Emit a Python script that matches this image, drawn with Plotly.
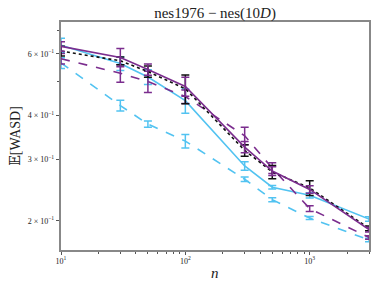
import plotly.graph_objects as go

n = [10, 30, 50, 100, 300, 500, 1000, 3000]

purple_solid = [0.630, 0.586, 0.541, 0.484, 0.325, 0.2776, 0.246, 0.189]
purple_solid_err = [0.02, 0.035, 0.02, 0.03, 0.012, 0.008, 0.006, 0.003]
purple_dashed = [0.581, 0.528, 0.500, 0.453, 0.350, 0.283, 0.2169, 0.1794]
purple_dashed_err = [0.02, 0.03, 0.035, 0.02, 0.02, 0.010, 0.004, 0.002]
cyan_solid = [0.635, 0.563, 0.515, 0.441, 0.287, 0.2496, 0.2367, 0.2025]
cyan_solid_err = [0.03, 0.025, 0.025, 0.035, 0.008, 0.003, 0.004, 0.003]
cyan_dashed = [0.565, 0.427, 0.378, 0.338, 0.263, 0.230, 0.2038, 0.1764]
cyan_dashed_err = [0.02, 0.015, 0.008, 0.015, 0.004, 0.003, 0.002, 0.002]
black_dotted = [0.611, 0.573, 0.534, 0.477, 0.318, 0.276, 0.2485, 0.1905]
black_dotted_err = [0.02, 0.015, 0.02, 0.045, 0.012, 0.012, 0.012, 0.003]

PURPLE = "#7b2d8e"
CYAN = "#52c3f1"
BLACK = "#111111"

series = [
    (cyan_dashed, cyan_dashed_err, CYAN, "dash"),
    (cyan_solid, cyan_solid_err, CYAN, "solid"),
    (purple_dashed, purple_dashed_err, PURPLE, "dash"),
    (black_dotted, black_dotted_err, BLACK, "dot"),
    (purple_solid, purple_solid_err, PURPLE, "solid"),
]

fig = go.Figure()
for y, e, c, d in series:
    fig.add_trace(go.Scatter(
        x=n, y=y, mode="lines",
        line=dict(color=c, width=1.6, dash=d),
        error_y=dict(type="data", array=e, visible=True, color=c, thickness=1.5, width=4),
        showlegend=False,
    ))

font = "Liberation Serif, DejaVu Serif, serif"
ytv = [0.2, 0.3, 0.4, 0.6]
ytt = ["2 × 10<sup>−1</sup>", "3 × 10<sup>−1</sup>", "4 × 10<sup>−1</sup>", "6 × 10<sup>−1</sup>"]
xtv = [10, 100, 1000]
xtt = ["10<sup>1</sup>", "10<sup>2</sup>", "10<sup>3</sup>"]

fig.update_layout(
    width=374, height=287,
    margin=dict(l=61, r=5, t=22, b=37, autoexpand=False),
    paper_bgcolor="white", plot_bgcolor="white",
    font=dict(family=font, color="#222222"),
    title=dict(text="nes1976 − nes(10<i>D</i>)", x=0.575, xanchor="center",
               y=0.957, yanchor="middle", font=dict(size=15, family=font, color="#222")),
    xaxis=dict(type="log", range=[1, 3.477], showgrid=False, zeroline=False, automargin=False,
               showline=True, linecolor="#888888", linewidth=1.5, mirror=True,
               ticks="outside", ticklen=3.5, tickwidth=0.8, tickcolor="#555",
               tickvals=xtv, ticktext=xtt, tickfont=dict(size=8, family=font),
               ticklabelstandoff=-1,
               minor=dict(tickvals=[20, 30, 40, 50, 60, 70, 80, 90, 200, 300, 400, 500, 600, 700, 800, 900, 2000, 3000],
                          ticks="outside", ticklen=2, tickwidth=0.6, tickcolor="#555")),
    yaxis=dict(type="log", range=[-0.782, -0.131], showgrid=False, zeroline=False, automargin=False,
               showline=True, linecolor="#888888", linewidth=1.5, mirror=True,
               ticks="outside", ticklen=3.5, tickwidth=0.8, tickcolor="#555",
               tickvals=ytv, ticktext=ytt, tickfont=dict(size=8, family=font),
               minor=dict(tickvals=[0.5, 0.7], ticks="outside", ticklen=2, tickwidth=0.6, tickcolor="#555"),
               title=dict(text="𝔼[WASD]", font=dict(size=14, family=font), standoff=4)),
    annotations=[dict(text="<i>n</i>", xref="paper", yref="paper", x=0.5, y=-0.1,
                      xanchor="center", yanchor="middle", showarrow=False,
                      font=dict(size=15, family=font, color="#222"))],
)

fig.write_html("out.html", config={"displayModeBar": False},
               post_script="document.body.style.margin='0';")
